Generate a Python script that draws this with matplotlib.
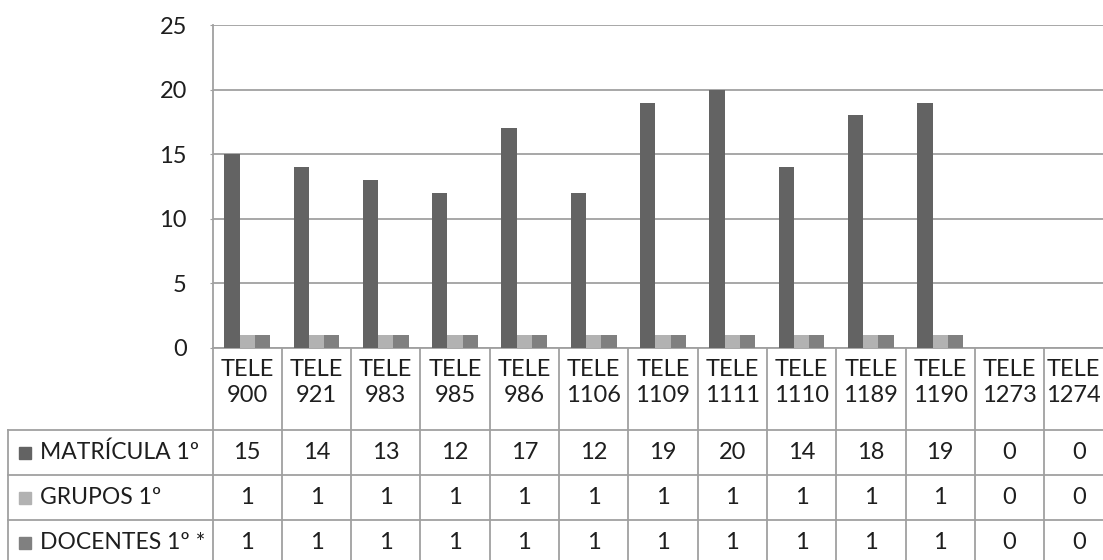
import numpy as np
import matplotlib.pyplot as plt

plt.rcParams['font.family'] = ['Lato', 'DejaVu Sans']

codes = ['900', '921', '983', '985', '986', '1106', '1109', '1111',
         '1110', '1189', '1190', '1273', '1274']
prefix = 'TELE'
series_names = ['MATRÍCULA 1º', 'GRUPOS 1º', 'DOCENTES 1º *']
matricula = [15, 14, 13, 12, 17, 12, 19, 20, 14, 18, 19, 0, 0]
grupos = [1, 1, 1, 1, 1, 1, 1, 1, 1, 1, 1, 0, 0]
docentes = [1, 1, 1, 1, 1, 1, 1, 1, 1, 1, 1, 0, 0]
yticks = [0, 5, 10, 15, 20, 25]

colors = ['#636363', '#b2b2b2', '#808080']
grid_c = '#a0a0a0'
text_c = '#1e1e1e'
fs = 17

W, H = 1103, 560
fig = plt.figure(figsize=(W / 100, H / 100), dpi=100)

# chart area in pixel terms
x0, y_top, y_bot = 212.5, 25, 348
cw = 69.3  # width of one category cell
n = len(codes)
ax = fig.add_axes([x0 / W, (H - y_bot) / H, n * cw / W, (y_bot - y_top) / H])

x = np.arange(n)
bw = 0.22
for k, vals in enumerate([matricula, grupos, docentes]):
    ax.bar(x + (k - 1) * bw, vals, width=bw, color=colors[k], linewidth=0, zorder=3)

ax.set_xlim(-0.5, n - 0.5)
ax.set_ylim(0, 25)
ax.set_yticks(yticks)
ax.set_xticks([])
ax.yaxis.grid(True, color=grid_c, linewidth=1.3)
ax.set_axisbelow(True)
for s in ['top', 'right']:
    ax.spines[s].set_visible(False)
for s in ['left', 'bottom']:
    ax.spines[s].set_color(grid_c)
    ax.spines[s].set_linewidth(1.3)
ax.tick_params(axis='y', length=2.5, color=grid_c, pad=16, labelsize=fs, labelcolor=text_c)

# data table drawn in pixel coordinates
ov = fig.add_axes([0, 0, 1, 1], zorder=5)
ov.set_xlim(0, W)
ov.set_ylim(H, 0)
ov.axis('off')
ov.patch.set_alpha(0)

rows_y = [430, 475, 520, 565]
left = 8
for yy in rows_y:
    ov.plot([left, W], [yy, yy], color=grid_c, lw=1.3)
ov.plot([left, left], [rows_y[0], H], color=grid_c, lw=1.3)
for i in range(n + 1):
    xb = x0 + i * cw
    ov.plot([xb, xb], [y_bot, H], color=grid_c, lw=1.3)

for i, c in enumerate(codes):
    # centre on the visible part of the cell (last one runs off the edge)
    cx = (x0 + i * cw + min(x0 + (i + 1) * cw, W)) / 2
    ov.text(cx, 369, prefix, ha='center', va='center', fontsize=fs, color=text_c)
    ov.text(cx, 395, c, ha='center', va='center', fontsize=fs, color=text_c)

for r, (name, vals) in enumerate(zip(series_names, [matricula, grupos, docentes])):
    cy = (rows_y[r] + rows_y[r + 1]) / 2
    ov.add_patch(plt.Rectangle((19, cy - 6), 12, 12, color=colors[r]))
    ov.text(40, cy, name, ha='left', va='center', fontsize=fs - 0.5, color=text_c)
    for i, v in enumerate(vals):
        cx = x0 + (i + 0.5) * cw
        ov.text(cx, cy, str(v), ha='center', va='center', fontsize=fs, color=text_c)

fig.savefig('out.png', dpi=100)
